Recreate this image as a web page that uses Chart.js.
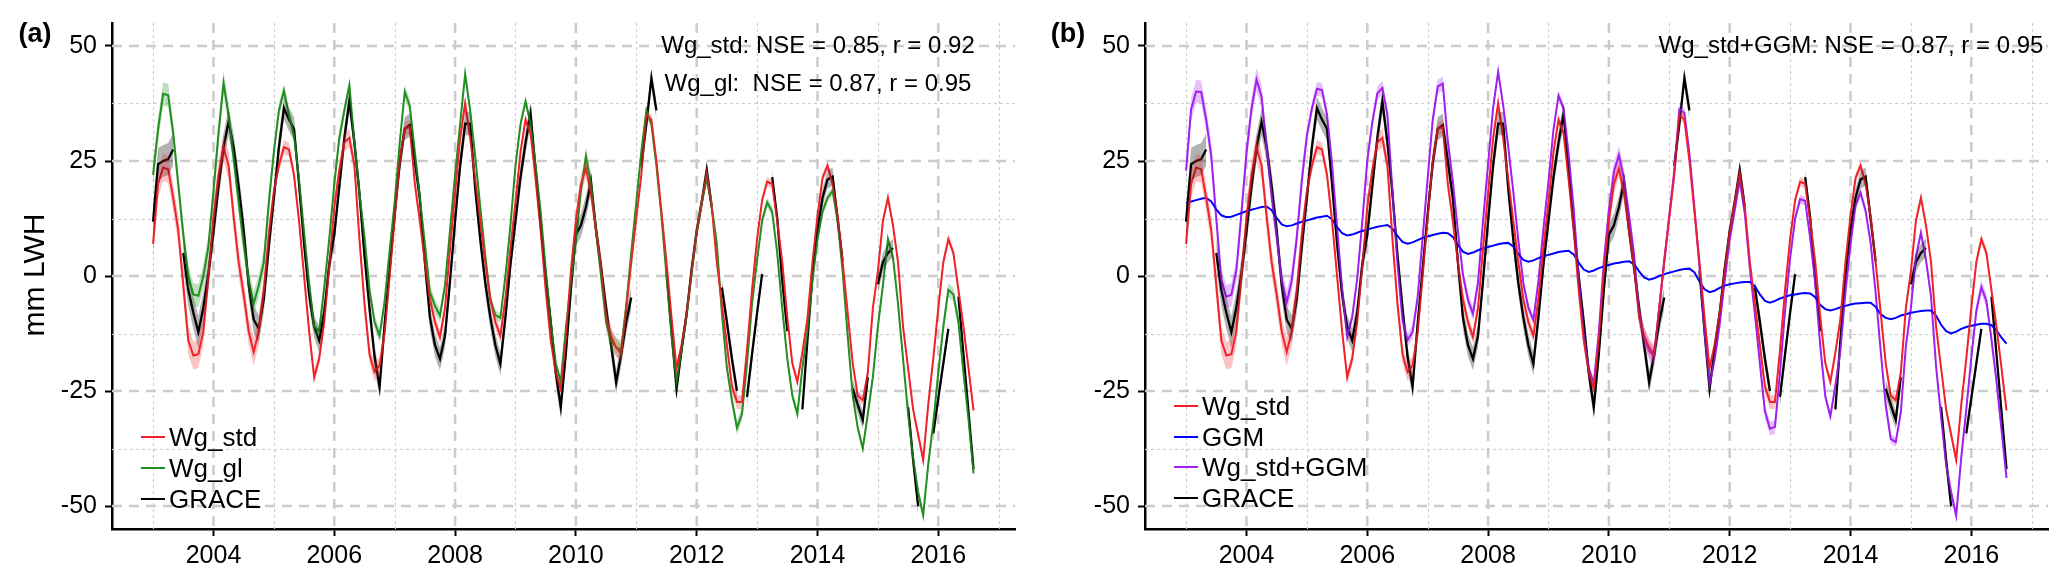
<!DOCTYPE html>
<html>
<head>
<meta charset="utf-8">
<script src="https://cdn.jsdelivr.net/npm/chart.js@4.4.1/dist/chart.umd.min.js"></script>
<style>
  body { margin: 0; background: #fff; }
  #wrap { position: relative; width: 2067px; height: 581px; font-family: "Liberation Sans", Arial, sans-serif; color: #000; }
  canvas { position: absolute; top: 0; }
  .txt { position: absolute; white-space: pre; line-height: 1; transform: translate(-50%, -50%); }
  .leg { position: absolute; white-space: pre; line-height: 1; font-size: 26px; transform: translateY(-50%); }
  .swatch { position: absolute; height: 2px; width: 24px; }
</style>
</head>
<body>
<div id="wrap">
  <canvas id="chartA" width="1034" height="581" style="left:0px"></canvas>
  <canvas id="chartB" width="1034" height="581" style="left:1033px"></canvas>
  <div class="txt" style="left:35px;top:33px;font-size:27px;font-weight:bold;">(a)</div>
  <div class="txt" style="left:1068px;top:33px;font-size:27px;font-weight:bold;">(b)</div>
  <div class="txt" style="left:34px;top:275px;font-size:30px;transform:translate(-50%,-50%) rotate(-90deg);">mm LWH</div>
  <div class="txt" style="left:818px;top:45px;font-size:24px;">Wg_std: NSE = 0.85, r = 0.92</div>
  <div class="txt" style="left:818px;top:83px;font-size:24px;">Wg_gl:  NSE = 0.87, r = 0.95</div>
  <div class="txt" style="left:1851px;top:45px;font-size:24px;">Wg_std+GGM: NSE = 0.87, r = 0.95</div>
</div>
<script>
// monthly values, Jan 2003 .. Aug 2016 (one row per year)
const firstYear = 2003;

const wgStd = [
  7, 20, 23.6, 23.2, 17, 10, -2, -14, -17.3, -17, -12, 0,
  12.6, 22, 28, 24, 13, 3, -4, -12, -16.5, -12, -3, 9,
  18.4, 24, 28, 27.5, 22, 12, 0, -12, -22, -18, -10, 2,
  15, 23, 29, 30, 24, 8, -6, -17, -20.9, -19.5, -12.5, 0,
  12.7, 25, 32, 32.4, 20, 12, 3, -5, -10, -13.3, -7, 6,
  18, 30, 37.5, 30, 21, 12, 3, -5, -10, -13, -5, 6,
  16, 27, 34, 31, 21, 10, -3, -14, -21, -24.5, -14, 1,
  12, 20, 23.4, 18, 10, 2, -9, -13, -15.5, -17, -7, 3,
  12.5, 22, 35, 34, 25, 14, 3, -9, -20, -15, -8, 1,
  9.7, 16, 22.3, 15, 3, -6, -15, -24, -27.4, -27.4, -16, -3,
  8, 16.5, 20.5, 20, 12, 3, -9, -19, -23, -16.6, -9.3, 3,
  13, 21.3, 24, 20, 13, 3, -8, -19, -26, -27, -21, -7,
  1, 12, 17, 11, 3, -11, -20, -29, -34.5, -40, -28, -18,
  -7, 3, 8, 5, -3, -11, -20, -29.2
];

const wgGl = [
  22, 32, 39.6, 39.3, 31, 20, 9, 0, -4, -4.3, 0, 6.5,
  18.4, 31, 42, 35, 25.6, 16, 7, -1, -6, -2, 3, 16,
  27, 36, 40.3, 35, 30.5, 21, 9.5, -1.5, -11, -12, -2.5, 8,
  20, 30, 36, 41.4, 29, 18, 8.5, -3, -10, -13, -5.5, 5.5,
  16, 29, 40, 37, 27, 17, 7, -3.5, -6.5, -8.6, -2, 10,
  22, 33, 43.9, 36, 26, 15, 4.5, -5, -8.5, -9.1, 0, 11,
  24, 33, 38, 33, 24, 14, 1.5, -10, -19, -23, -11.5, -1.5,
  8, 18.5, 26, 20, 10, 0, -10, -14, -15.5, -16, -6.5, 5,
  16, 27, 36, 33, 24, 13, 0, -13, -23, -16, -8.5, 0.5,
  9.7, 16, 21.3, 15, 7, -8, -20, -27, -33, -30, -19, -6,
  3.5, 12, 16, 14, 5, -7, -18, -26, -30, -20, -12, -1,
  8, 14, 17, 18.5, 12, 1, -13, -26, -33, -37.5, -30, -22,
  -11, -2, 8, 4, -6, -18, -30, -39.5, -47, -52, -41, -32,
  -21, -11, -3, -4, -10, -21, -31, -42.9
];

const grace = [
  11.8, 24.3, 25, 25.4, 27.5, null, 5, -3, -8, -12.2, -6.8, 0.5,
  9.7, 19.5, 28, 33.5, 28, 19.5, 10, -2, -9.5, -11.5, -5, 6.5,
  17, 28, 36.5, 34, 32, 20, 7, -4, -11, -14, -8, 2.5,
  9, 19.5, 30, 38, 29, 18, 4.5, -7, -17.5, -24.1, -10.5, 1.5,
  13.5, 24.5, 32, 32.8, 25, 17, 3, -9, -15, -18, -13, -1,
  12, 24, 33.1, 33.1, 19, 8, -1.5, -9, -15, -19.1, -9, 2.5,
  12, 21.5, 29, 35.3, 23, 11, 0, -10, -21, -28.5, -17, -3,
  9, 11, 15, 20.5, 10, 2, -7, -15, -23.1, -17, -10, -4.7,
  null, 24, 33, 43, 36, null, 1.1, -12, -24.5, -16, -8.3, 1.5,
  9.7, 16, 23, 15, null, -2.5, -10, -18, -25, null, -26.3, -17,
  -8, 0.4, null, 21.5, 12.6, -1, -12, null, null, -29, -14, 0,
  10, 17, 21, 21.6, 12.4, 3.2, null, -24.5, -28, -31.3, -22, null,
  -1.8, 3, 5, 6.1, null, null, -28.5, -40, -50, null, null, -34.2,
  -26.6, -19, -11.5, null, -4.5, -17, -29.5, -42
];

const ggm = [
  15.9, 16.2, 16.5, 16.8, 17.0, 16.2, 14.5, 13.2, 12.8, 12.9, 13.3, 13.7,
  14.1, 14.4, 14.7, 15.0, 15.1, 14.3, 12.6, 11.2, 10.8, 11.0, 11.4, 11.8,
  12.1, 12.4, 12.7, 12.9, 13.1, 12.3, 10.6, 9.3, 8.8, 9.0, 9.4, 9.8,
  10.1, 10.4, 10.7, 10.9, 11.1, 10.3, 8.7, 7.4, 7.0, 7.3, 7.8, 8.3,
  8.6, 8.9, 9.2, 9.4, 9.3, 8.5, 6.8, 5.3, 4.8, 5.1, 5.6, 6.0,
  6.3, 6.6, 6.9, 7.1, 7.2, 6.4, 4.8, 3.5, 3.1, 3.4, 3.9, 4.3,
  4.6, 4.9, 5.2, 5.4, 5.5, 4.7, 2.9, 1.4, 0.9, 1.2, 1.7, 2.1,
  2.4, 2.7, 2.9, 3.1, 3.2, 2.6, 1.0, -0.3, -0.8, -0.5, 0.0, 0.4,
  0.7, 1.0, 1.3, 1.5, 1.6, 0.8, -1.2, -2.9, -3.5, -3.2, -2.6, -2.1,
  -1.8, -1.6, -1.4, -1.3, -1.3, -2.2, -4.0, -5.4, -5.8, -5.4, -4.9, -4.5,
  -4.2, -4.0, -3.8, -3.7, -3.8, -4.6, -6.3, -7.2, -7.5, -7.2, -6.8, -6.5,
  -6.2, -6.0, -5.9, -5.8, -5.8, -6.7, -8.3, -9.1, -9.4, -9.1, -8.6, -8.3,
  -8.0, -7.8, -7.6, -7.5, -7.5, -8.6, -10.6, -12.0, -12.5, -12.1, -11.5, -11.1,
  -10.8, -10.6, -10.4, -10.4, -10.7, -11.8, -13.4, -14.7
];

const wgStdGgm = [
  22.9, 36.2, 40.1, 40.0, 34.0, 26.2, 12.5, -0.8, -4.5, -4.1, 1.3, 13.7,
  26.7, 36.4, 42.7, 39.0, 28.1, 17.3, 8.6, -0.8, -5.7, -1.0, 8.4, 20.8,
  30.5, 36.4, 40.7, 40.4, 35.1, 24.3, 10.6, -2.7, -13.2, -9.0, -0.6, 11.8,
  25.1, 33.4, 39.7, 40.9, 35.1, 18.3, 2.7, -9.6, -13.9, -12.2, -4.7, 8.3,
  21.3, 33.9, 41.2, 41.8, 29.3, 20.5, 9.8, 0.3, -5.2, -8.2, -1.4, 12.0,
  24.3, 36.6, 44.4, 37.1, 28.2, 18.4, 7.8, -1.5, -6.9, -9.6, -1.1, 10.3,
  20.6, 31.9, 39.2, 36.4, 26.5, 14.7, -0.1, -12.6, -20.1, -23.3, -12.3, 3.1,
  14.4, 22.7, 26.3, 21.1, 13.2, 4.6, -8.0, -13.3, -16.3, -17.5, -7.0, 3.4,
  13.2, 23.0, 36.3, 35.5, 26.6, 14.8, 1.8, -11.9, -23.5, -18.2, -10.6, -1.1,
  7.9, 14.4, 20.9, 13.7, 1.7, -8.2, -19.0, -29.4, -33.2, -32.8, -20.9, -7.5,
  3.8, 12.5, 16.7, 16.3, 8.2, -1.6, -15.3, -26.2, -30.5, -23.8, -16.1, -3.5,
  6.8, 15.3, 18.1, 14.2, 7.2, -3.7, -16.3, -28.1, -35.4, -36.1, -29.6, -15.3,
  -7.0, 4.2, 9.4, 3.5, -4.5, -19.6, -30.6, -41.0, -47.0, -52.1, -39.5, -29.1,
  -17.8, -7.6, -2.4, -5.4, -13.7, -22.8, -33.4, -43.9
];

// half-width of the shaded uncertainty ribbons, one value per year 2003..2016
const graceSpread    = [3.5, 3, 2.5, 2.5, 2.5, 2.5, 2.5, 2.5, 2, 2, 1.5, 2, 2, 1.5];
const wgStdSpread    = [3, 3, 1.5, 2, 1.5, 1.5, 1, 2, 1, 1.5, 1, 1, 1, 1];
const wgGlSpread     = [2.5, 2.5, 1.5, 1.5, 1.5, 1, 1, 2, 1, 1.5, 1, 1, 1, 1.5];
const wgStdGgmSpread = [2.5, 2.5, 1.5, 1.5, 1.5, 1, 1, 2, 1, 1.5, 1, 1, 1, 1.5];

const xTicks = [2004, 2006, 2008, 2010, 2012, 2014, 2016];
const yTicks = [-50, -25, 0, 25, 50];
const xMinorGrid = [2003, 2005, 2007, 2009, 2011, 2013, 2015, 2017];
const yMinorGrid = [-37.5, -12.5, 12.5, 37.5];

const FONT = '"Liberation Sans", Arial, sans-serif';

function toPoints(values) {
  return values.map((v, i) => ({ x: firstYear + i / 12, y: v }));
}

function bandPoints(values, spread, sign) {
  return values.map((v, i) => ({
    x: firstYear + i / 12,
    y: v === null ? null : v + sign * spread[Math.floor(i / 12)]
  }));
}

// dashed / dotted background grid drawn through the chart's scales
const gridPlugin = {
  id: 'ggGrid',
  beforeDatasetsDraw(chart) {
    const { ctx, chartArea: a, scales: { x, y } } = chart;
    ctx.save();
    ctx.beginPath();
    ctx.rect(a.left, a.top, a.right - a.left, a.bottom - a.top);
    ctx.clip();
    // minor
    ctx.strokeStyle = '#cfcfcf';
    ctx.lineWidth = 1.2;
    ctx.setLineDash([3, 3]);
    xMinorGrid.forEach(v => {
      const px = Math.round(x.getPixelForValue(v)) + 0.5;
      ctx.beginPath(); ctx.moveTo(px, a.top); ctx.lineTo(px, a.bottom); ctx.stroke();
    });
    yMinorGrid.forEach(v => {
      const py = Math.round(y.getPixelForValue(v)) + 0.5;
      ctx.beginPath(); ctx.moveTo(a.left, py); ctx.lineTo(a.right, py); ctx.stroke();
    });
    // major
    ctx.strokeStyle = '#cccccc';
    ctx.lineWidth = 2.5;
    ctx.setLineDash([10, 7]);
    xTicks.forEach(v => {
      const px = x.getPixelForValue(v);
      ctx.beginPath(); ctx.moveTo(px, a.top); ctx.lineTo(px, a.bottom); ctx.stroke();
    });
    yTicks.forEach(v => {
      const py = y.getPixelForValue(v);
      ctx.beginPath(); ctx.moveTo(a.left, py); ctx.lineTo(a.right, py); ctx.stroke();
    });
    ctx.restore();
  }
};

function buildPanel(canvasId, series) {
  const datasets = [];
  series.forEach(s => {
    if (!s.spread) return;
    datasets.push({
      data: bandPoints(s.values, s.spread, 1),
      fill: '+1', backgroundColor: s.band, borderWidth: 0, pointRadius: 0
    });
    datasets.push({
      data: bandPoints(s.values, s.spread, -1),
      fill: false, borderWidth: 0, pointRadius: 0
    });
  });
  series.forEach(s => {
    datasets.push({
      label: s.label,
      data: toPoints(s.values),
      borderColor: s.color, borderWidth: s.width || 2,
      pointRadius: 0, fill: false
    });
  });

  const ctx = document.getElementById(canvasId).getContext('2d');
  return new Chart(ctx, {
    type: 'line',
    data: { datasets: datasets },
    plugins: [gridPlugin],
    options: {
      responsive: false,
      animation: false,
      layout: { padding: { top: 20, right: 19, left: 0, bottom: 0 } },
      elements: { line: { tension: 0 } },
      plugins: { legend: { display: false }, tooltip: { enabled: false } },
      scales: {
        x: {
          type: 'linear', min: 2002.32, max: 2017.27, z: 1,
          afterBuildTicks: s => { s.ticks = xTicks.map(v => ({ value: v })); },
          afterFit: s => { s.height = 52; },
          grid: { drawOnChartArea: false, drawTicks: true, tickLength: 7, tickColor: '#000', tickWidth: 2 },
          border: { color: '#000', width: 2.5 },
          ticks: { color: '#000', padding: 5, font: { family: FONT, size: 25 }, callback: v => String(v), maxRotation: 0 }
        },
        y: {
          min: -55, max: 55, z: 1,
          afterBuildTicks: s => { s.ticks = yTicks.map(v => ({ value: v })); },
          afterFit: s => { s.width = 112; },
          grid: { drawOnChartArea: false, drawTicks: true, tickLength: 7, tickColor: '#000', tickWidth: 2 },
          border: { color: '#000', width: 2.5 },
          ticks: { color: '#000', padding: 8, font: { family: FONT, size: 25 }, callback: v => String(v) }
        }
      }
    }
  });
}

const RED = '#f2202a', GREEN = '#1f8f1f', BLACK = '#000000', BLUE = '#0000ff', PURPLE = '#a020f0';

buildPanel('chartA', [
  { label: 'Wg_std', values: wgStd, color: RED, spread: wgStdSpread, band: 'rgba(240,40,40,0.28)' },
  { label: 'Wg_gl', values: wgGl, color: GREEN, spread: wgGlSpread, band: 'rgba(40,150,40,0.3)' },
  { label: 'GRACE', values: grace, color: BLACK, width: 2.3, spread: graceSpread, band: 'rgba(0,0,0,0.3)' }
]);

buildPanel('chartB', [
  { label: 'Wg_std', values: wgStd, color: RED, spread: wgStdSpread, band: 'rgba(240,40,40,0.28)' },
  { label: 'GGM', values: ggm, color: BLUE },
  { label: 'Wg_std+GGM', values: wgStdGgm, color: PURPLE, spread: wgStdGgmSpread, band: 'rgba(160,32,240,0.28)' },
  { label: 'GRACE', values: grace, color: BLACK, width: 2.3, spread: graceSpread, band: 'rgba(0,0,0,0.3)' }
]);

// legends (HTML text)
const legendA = [['Wg_std', RED, 437], ['Wg_gl', GREEN, 468], ['GRACE', BLACK, 499]];
const legendB = [['Wg_std', RED, 406], ['GGM', BLUE, 437], ['Wg_std+GGM', PURPLE, 467], ['GRACE', BLACK, 498]];
const wrap = document.getElementById('wrap');
function addLegend(entries, x0) {
  entries.forEach(([name, color, yc]) => {
    const sw = document.createElement('div');
    sw.className = 'swatch';
    sw.style.left = x0 + 'px';
    sw.style.top = (yc - 1) + 'px';
    sw.style.background = color;
    wrap.appendChild(sw);
    const t = document.createElement('div');
    t.className = 'leg';
    t.style.left = (x0 + 28) + 'px';
    t.style.top = yc + 'px';
    t.textContent = name;
    wrap.appendChild(t);
  });
}
addLegend(legendA, 141);
addLegend(legendB, 1174);
</script>
</body>
</html>
